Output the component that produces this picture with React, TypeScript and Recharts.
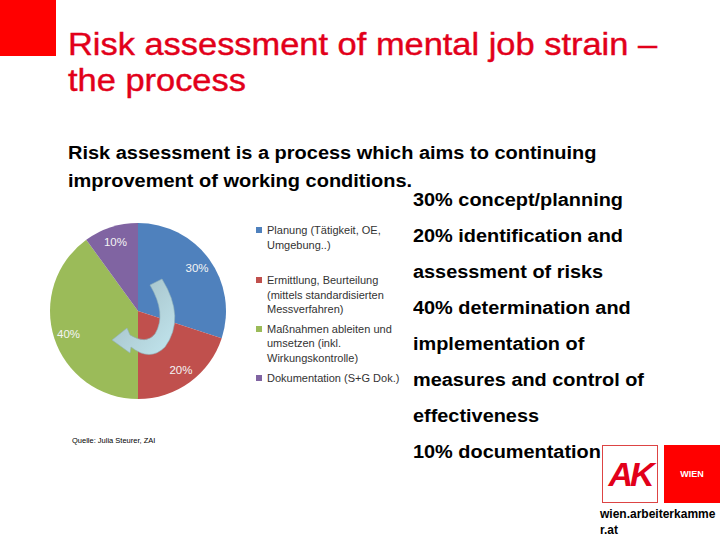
import React from 'react';
import { PieChart, Pie, Cell, Legend } from 'recharts';

const phases = ['Planung (Tätigkeit, OE, Umgebung..)', 'Ermittlung, Beurteilung (mittels standardisierten Messverfahren)', 'Maßnahmen ableiten und umsetzen (inkl. Wirkungskontrolle)', 'Dokumentation (S+G Dok.)'];
const shares = [30, 20, 40, 10];
const colors = ['#4f81bd', '#c0504d', '#9bbb59', '#8064a2'];
const notes = ['30% concept/planning', '20% identification and', 'assessment of risks', '40% determination and', 'implementation of', 'measures and control of', 'effectiveness', '10% documentation'];

const data = phases.map((name, i) => ({ name, value: shares[i] }));

const RAD = Math.PI / 180;
const font = '"Liberation Sans", Arial, sans-serif';
// the slide is a bit stretched sideways
const stretch = (s: number) => ({ transform: `scaleX(${s})`, transformOrigin: 'left top', whiteSpace: 'nowrap' as const });

// percent labels sit at ~83% of the radius, like the excel chart
const renderLabel = (p: any) => {
  const r = p.outerRadius * 0.83;
  const x = p.cx + r * Math.cos(-p.midAngle * RAD);
  const y = p.cy + r * Math.sin(-p.midAngle * RAD);
  return (
    <text x={x} y={y} fill="#f4f4f4" fontSize={11.5} fontFamily={font} textAnchor="middle" dominantBaseline="central">
      {`${p.value}%`}
    </text>
  );
};

const gaps = [21, 5, 6, 0];

// legend keeps the data order (recharts hands the pie payload over reversed here)
const LegendBox = () => (
  <div style={{ fontFamily: font, fontSize: 11, lineHeight: '14.5px', color: '#333' }}>
    {phases.map((name, i) => (
      <div key={name} style={{ display: 'flex', marginBottom: gaps[i] }}>
        <span style={{ width: 6, height: 6, background: colors[i], marginTop: 4, marginRight: 5, flexShrink: 0 }} />
        <span>{name}</span>
      </div>
    ))}
  </div>
);

export default function App() {
  return (
    <div style={{ position: 'absolute', left: 0, top: 0, width: 720, height: 540, background: '#fff', overflow: 'hidden', fontFamily: font }}>
      <div style={{ position: 'absolute', left: 0, top: 0, width: 56, height: 56, background: '#ff0000' }} />
      <div style={{ position: 'absolute', left: 68, top: 27, fontSize: 31, lineHeight: '36px', color: '#e2001a', WebkitTextStroke: '0.4px #e2001a', ...stretch(1.11) }}>
        Risk assessment of mental job strain –<br />the process
      </div>
      <div style={{ position: 'absolute', left: 68, top: 139, fontSize: 18, lineHeight: '28px', fontWeight: 'bold', color: '#000', ...stretch(1.11) }}>
        Risk assessment is a process which aims to continuing<br />improvement of working conditions.
      </div>

      <div style={{ position: 'absolute', left: 40, top: 200 }}>
        <PieChart width={370} height={230} margin={{ top: 0, right: 0, bottom: 0, left: 0 }}>
          <Pie data={data} dataKey="value" nameKey="name" cx={98} cy={111} outerRadius={88} startAngle={90} endAngle={-270}
            stroke="none" label={renderLabel} labelLine={false} isAnimationActive={false}>
            {data.map((d, i) => <Cell key={d.name} fill={colors[i]} />)}
          </Pie>
          <Legend content={<LegendBox />} wrapperStyle={{ position: 'absolute', left: 216, top: 23, width: 150 }} />
        </PieChart>
      </div>

      <svg width={720} height={540} style={{ position: 'absolute', left: 0, top: 0, pointerEvents: 'none' }}>
        <defs>
          <linearGradient id="arr" x1="0" y1="0" x2="1" y2="1">
            <stop offset="0" stopColor="#9fb9bf" />
            <stop offset="1" stopColor="#c2e6ef" />
          </linearGradient>
        </defs>
        <path d="M 150 285 L 162 279 Q 186 318 165 347 Q 150 362 131 347 L 130 353 L 112 340 L 127 328 L 130 335 Q 146 345 155 334 Q 167 314 150 285 Z"
          fill="url(#arr)" stroke="#8fb0b8" strokeWidth={0.6} />
      </svg>

      <div style={{ position: 'absolute', left: 72, top: 436, fontSize: 7.5, color: '#000' }}>Quelle: Julia Steurer, ZAI</div>

      <div style={{ position: 'absolute', left: 413, top: 182, fontSize: 18, lineHeight: '36px', fontWeight: 'bold', color: '#000', ...stretch(1.105) }}>
        {notes.map((t) => <div key={t}>{t}</div>)}
      </div>

      <div style={{ position: 'absolute', left: 602, top: 445, width: 54, height: 56, border: '1px solid #d44', background: '#fff', display: 'flex', alignItems: 'center', justifyContent: 'center' }}>
        <span style={{ fontSize: 34, fontWeight: 'bold', fontStyle: 'italic', color: '#e2001a', letterSpacing: -3 }}>AK</span>
      </div>
      <div style={{ position: 'absolute', left: 664, top: 445, width: 56, height: 58, background: '#ff0000', display: 'flex', alignItems: 'center', justifyContent: 'center' }}>
        <span style={{ fontSize: 9, fontWeight: 'bold', color: '#fff' }}>WIEN</span>
      </div>
      <div style={{ position: 'absolute', left: 600, top: 506, fontSize: 12, lineHeight: '16px', fontWeight: 'bold', color: '#000' }}>
        wien.arbeiterkamme<br />r.at
      </div>
    </div>
  );
}
